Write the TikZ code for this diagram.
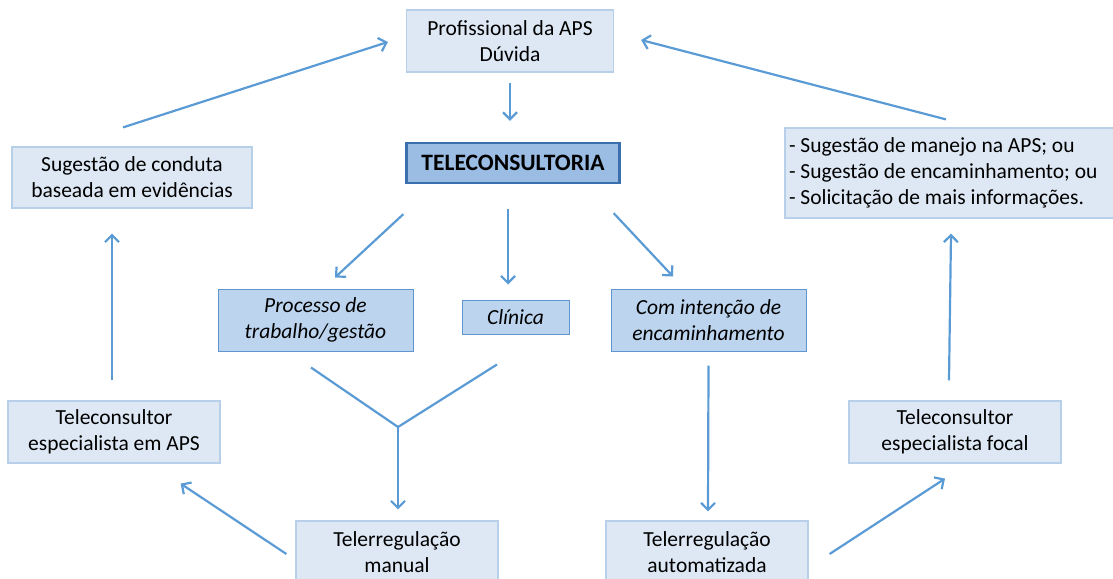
\documentclass[tikz,border=0pt]{standalone}
\usepackage{fontspec}
\setmainfont{Carlito}
\usepackage{xcolor}
\usetikzlibrary{arrows.meta}

\definecolor{lightFill}{HTML}{DEE8F4}
\definecolor{lightDraw}{HTML}{B8CFEA}
\definecolor{midFill}{HTML}{BCD4EE}
\definecolor{midDraw}{HTML}{5F95D0}
\definecolor{teleFill}{HTML}{9BBDE3}
\definecolor{teleDraw}{HTML}{3B6EAD}
\definecolor{arrowBlue}{HTML}{5B9BD5}

\begin{document}
\begin{tikzpicture}[x=1pt,y=-1pt,
    font=\fontsize{21.5}{26}\selectfont,
    box/.style={draw=lightDraw,fill=lightFill,line width=1.2pt,align=center,inner sep=0pt},
    midbox/.style={draw=midDraw,fill=midFill,line width=1pt,align=center,inner sep=0pt,font=\fontsize{21.5}{26}\selectfont\itshape},
    telebox/.style={draw=teleDraw,fill=teleFill,line width=2.4pt,inner sep=0pt,font=\fontsize{23.5}{26}\selectfont\bfseries},
    arr/.style={draw=arrowBlue,line width=2.2pt,-{Straight Barb[length=7pt,width=14pt,line width=2.2pt]}},
    ln/.style={draw=arrowBlue,line width=2.2pt}]

        \useasboundingbox (0,0) rectangle (1113,578);

        %------------------
        % caixas
        %------------------

        \node[box,minimum width=207,minimum height=62] (prof) at (510,41) {Profissional da APS\\Dúvida};
        \node[telebox,minimum width=213,minimum height=40] (tele) at (513,163) {TELECONSULTORIA};

        \node[midbox,minimum width=195,minimum height=62] (proc) at (315.5,320) {Processo de\\trabalho/gestão};
        \node[midbox,minimum width=107,minimum height=34] (clin) at (515.5,317) {Clínica};
        \node[midbox,minimum width=195,minimum height=62] (com) at (708.5,320) {Com intenção de\\encaminhamento};

        \node[box,minimum width=240,minimum height=61] (sug) at (132,177.5) {Sugestão de conduta\\baseada em evidências};
        \node[box,minimum width=332,minimum height=90,text width=324,align=flush left] (lista) at (951,173)
          {- Sugestão de manejo na APS; ou\\- Sugestão de encaminhamento; ou\\- Solicitação de mais informações.};

        \node[box,minimum width=212,minimum height=62] (tcAPS) at (114,432) {Teleconsultor\\especialista em APS};
        \node[box,minimum width=212,minimum height=62] (tcFoc) at (955,432) {Teleconsultor\\especialista focal};

        \node[box,minimum width=202,minimum height=62] (manual) at (397,552) {Telerregulação\\manual};
        \node[box,minimum width=202,minimum height=62] (auto) at (707,552) {Telerregulação\\automatizada};

        %------------------
        % setas
        %------------------

        \draw[arr] ([yshift=-10pt]prof.south) -- ([shift={(-3pt,21pt)}]tele.north);

        \draw[arr] ([shift={(-2pt,-30pt)}]tele.south west) -- ([shift={(19.5pt,11pt)}]proc.north);
        \draw[arr] ([shift={(-5pt,-25pt)}]tele.south) -- ([shift={(-7.5pt,15pt)}]clin.north);
        \draw[arr] ([shift={(-7pt,-29pt)}]tele.south east) -- ([shift={(-35.5pt,12pt)}]com.north);

        % junção em Y
        \coordinate (juncao) at (398,427);
        \draw[ln] ([shift={(-4.5pt,-16pt)}]proc.south) -- (juncao);
        \draw[ln] ([shift={(-18.5pt,-30pt)}]clin.south) -- (juncao);
        \draw[arr] (juncao) -- ([shift={(1pt,11pt)}]manual.north);

        \draw[arr] ([yshift=-14pt]com.south) -- ([shift={(1pt,9pt)}]auto.north);

        % lado esquerdo
        \draw[arr] ([shift={(-9pt,-2pt)}]manual.west) -- ([shift={(-40pt,-20pt)}]tcAPS.south east);
        \draw[arr] ([shift={(-2pt,20pt)}]tcAPS.north) -- ([shift={(-20pt,-25pt)}]sug.south);
        \draw[arr] ([shift={(-9pt,19pt)}]sug.north) -- ([shift={(-18pt,-1pt)}]prof.west);

        % lado direito
        \draw[arr] ([shift={(21pt,-2pt)}]auto.east) -- ([shift={(-10pt,-15pt)}]tcFoc.south);
        \draw[arr] ([shift={(-6pt,20pt)}]tcFoc.north) -- ([shift={(0pt,-15pt)}]lista.south);
        \draw[arr] ([shift={(-5pt,8pt)}]lista.north) -- ([shift={(27pt,1pt)}]prof.east);
\end{tikzpicture}
\end{document}
